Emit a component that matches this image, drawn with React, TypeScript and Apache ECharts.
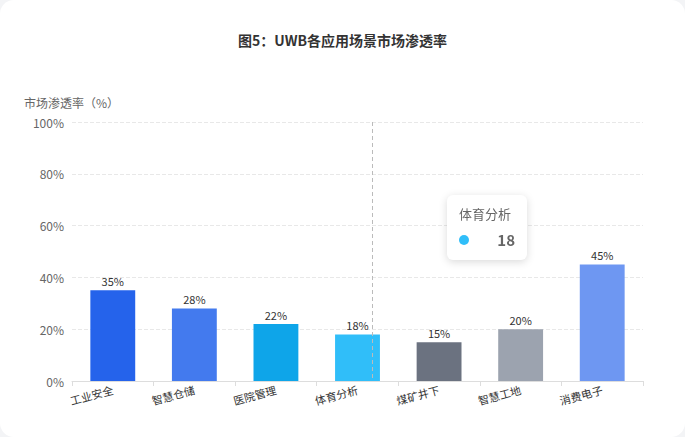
import React, { useEffect, useRef } from "react";
import * as echarts from "echarts";

const categories = ["工业安全", "智慧仓储", "医院管理", "体育分析", "煤矿井下", "智慧工地", "消费电子"];
const values = [35, 28, 22, 18, 15, 20, 45];
const barColors = ["#2563EB", "#437AEE", "#0EA5E9", "#30BEF9", "#6B7280", "#9CA3AF", "#6E97F2"];
const yTicks = [0, 20, 40, 60, 80, 100];
const titleText = "图5：UWB各应用场景市场渗透率";
const yAxisName = "市场渗透率（%）";

export default function App() {
  const ref = useRef<HTMLDivElement>(null);
  useEffect(() => {
    if (!ref.current) return;
    const chart = echarts.init(ref.current, undefined, { renderer: "svg" });
    const font = "'Noto Sans CJK SC', 'Noto Sans', sans-serif";
    chart.setOption({
      animation: false,
      textStyle: { fontFamily: font },
      title: {
        text: titleText,
        left: "center",
        top: 28,
        textStyle: { fontSize: 14, fontWeight: "bold", color: "#333", fontFamily: font },
      },
      tooltip: {
        trigger: "axis",
        axisPointer: { type: "none" },
        backgroundColor: "#fff",
        borderWidth: 0,
        padding: [10, 12],
        extraCssText: "border-radius:6px;box-shadow:0 2px 8px rgba(0,0,0,0.15);",
        position: () => [447, 195],
        formatter: (params: any) => {
          const p = Array.isArray(params) ? params[0] : params;
          return `<div style="font-family:${font.replace(/'/g, "")};min-width:56px">` +
            `<div style="font-size:13px;color:#666;line-height:18px">${p.name}</div>` +
            `<div style="display:flex;align-items:center;justify-content:space-between;margin-top:6px">` +
            `<span style="display:inline-block;width:10px;height:10px;border-radius:5px;background:${p.color}"></span>` +
            `<span style="font-size:15px;font-weight:bold;color:#666;margin-left:20px">${p.value}</span></div></div>`;
        },
      },
      graphic: [
        {
          type: "line",
          shape: { x1: 372.5, y1: 122, x2: 372.5, y2: 381 },
          style: { stroke: "#bbb", lineWidth: 1, lineDash: [4, 3] },
          silent: true,
          z: 10,
        },
      ],
      grid: { left: 72, right: 42, top: 122, bottom: 56 },
      xAxis: {
        type: "category",
        data: categories,
        axisLine: { lineStyle: { color: "#ddd" } },
        axisTick: { show: true, lineStyle: { color: "#ddd" } },
        axisLabel: { rotate: 15, color: "#333", fontSize: 11, margin: 8 },
      },
      yAxis: {
        type: "value",
        min: yTicks[0],
        max: yTicks[yTicks.length - 1],
        interval: 20,
        name: yAxisName,
        nameLocation: "end",
        nameGap: 14,
        nameTextStyle: { color: "#666", fontSize: 12, align: "left", padding: [0, 0, 0, -48] },
        axisLine: { show: false },
        axisTick: { show: false },
        axisLabel: { color: "#666", fontSize: 12, formatter: "{value}%" },
        splitLine: { lineStyle: { color: "#e8e8e8", type: "dashed" } },
      },
      series: [
        {
          type: "bar",
          name: "",
          barWidth: "55%",
          emphasis: { disabled: true },
          data: values.map((v, i) => ({ value: v, itemStyle: { color: barColors[i] } })),
          label: { show: true, position: "top", formatter: "{c}%", color: "#333", fontSize: 11, distance: 4 },
        },
      ],
    });
    setTimeout(() => {
      chart.dispatchAction({ type: "showTip", seriesIndex: 0, dataIndex: 3 });
    }, 50);
    return () => chart.dispose();
  }, []);
  return (
    <div style={{ position: "fixed", left: 0, top: 0, width: 685, height: 437, background: "#f3f4f6" }}>
      <div ref={ref} style={{ width: 685, height: 437, background: "#fff", borderRadius: 14 }} />
    </div>
  );
}
